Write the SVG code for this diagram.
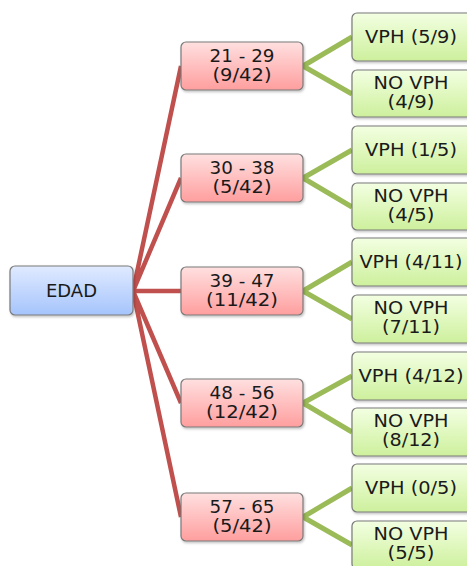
<svg xmlns="http://www.w3.org/2000/svg" width="467" height="566" viewBox="0 0 467 566">
<style>
text{font-family:"DejaVu Sans","Verdana",sans-serif;font-size:18px;fill:#1a1a1a;text-anchor:middle}
.box{stroke:#7a7a7a;stroke-width:1.2}
.root{fill:url(#gBlue)}
.age{fill:url(#gRed)}
.leaf{fill:url(#gGreen)}
.red{stroke:#c0504d;stroke-width:4.5;fill:none}
.grn{stroke:#9bbb59;stroke-width:5;fill:none}
</style>
<defs>
<linearGradient id="gBlue" x1="0" y1="0" x2="0" y2="1"><stop offset="0" stop-color="#e0eaff"/><stop offset="1" stop-color="#a5c4fc"/></linearGradient>
<linearGradient id="gRed" x1="0" y1="0" x2="0" y2="1"><stop offset="0" stop-color="#ffe0e0"/><stop offset="1" stop-color="#ff9e9e"/></linearGradient>
<linearGradient id="gGreen" x1="0" y1="0" x2="0" y2="1"><stop offset="0" stop-color="#f3ffe2"/><stop offset="1" stop-color="#cdf09c"/></linearGradient>
<filter id="sh" x="-10%" y="-10%" width="130%" height="140%"><feDropShadow dx="1" dy="1.5" stdDeviation="1.2" flood-color="#000" flood-opacity="0.25"/></filter>
</defs>
<g id="connectors">
<path class="red" d="M133 291 L181 66 M133 291 L181 178 M133 291 L181 291 M133 291 L181 403 M133 291 L181 517"/>
<path class="grn" d="M303 66 L352 37 M303 66 L352 94 M303 178 L352 150 M303 178 L352 207 M303 291 L352 262 M303 291 L352 319 M303 403 L352 376 M303 403 L352 432 M303 517 L352 488 M303 517 L352 545"/>
</g>
<g id="edad"><rect class="box root" x="10" y="266" width="123" height="49" rx="5" filter="url(#sh)"/><text x="71.5" y="297" textLength="51" lengthAdjust="spacingAndGlyphs">EDAD</text></g>
<g id="age21"><rect class="box age" x="181" y="42" width="122" height="48" rx="5" filter="url(#sh)"/><text x="242" y="62" textLength="65" lengthAdjust="spacingAndGlyphs">21 - 29</text><text x="242" y="81" textLength="59" lengthAdjust="spacingAndGlyphs">(9/42)</text></g>
<g id="age30"><rect class="box age" x="181" y="154" width="122" height="48" rx="5" filter="url(#sh)"/><text x="242" y="174" textLength="65" lengthAdjust="spacingAndGlyphs">30 - 38</text><text x="242" y="193" textLength="59" lengthAdjust="spacingAndGlyphs">(5/42)</text></g>
<g id="age39"><rect class="box age" x="181" y="267" width="122" height="48" rx="5" filter="url(#sh)"/><text x="242" y="287" textLength="65" lengthAdjust="spacingAndGlyphs">39 - 47</text><text x="242" y="306" textLength="72" lengthAdjust="spacingAndGlyphs">(11/42)</text></g>
<g id="age48"><rect class="box age" x="181" y="379" width="122" height="48" rx="5" filter="url(#sh)"/><text x="242" y="399" textLength="65" lengthAdjust="spacingAndGlyphs">48 - 56</text><text x="242" y="418" textLength="72" lengthAdjust="spacingAndGlyphs">(12/42)</text></g>
<g id="age57"><rect class="box age" x="181" y="493" width="122" height="48" rx="5" filter="url(#sh)"/><text x="242" y="513" textLength="65" lengthAdjust="spacingAndGlyphs">57 - 65</text><text x="242" y="532" textLength="59" lengthAdjust="spacingAndGlyphs">(5/42)</text></g>
<g id="vph21"><rect class="box leaf" x="352" y="13" width="120" height="48" rx="5" filter="url(#sh)"/><text x="411" y="43" textLength="92" lengthAdjust="spacingAndGlyphs">VPH (5/9)</text></g>
<g id="novph21"><rect class="box leaf" x="352" y="70" width="120" height="47" rx="5" filter="url(#sh)"/><text x="411" y="89" textLength="75" lengthAdjust="spacingAndGlyphs">NO VPH</text><text x="411" y="108" textLength="47" lengthAdjust="spacingAndGlyphs">(4/9)</text></g>
<g id="vph30"><rect class="box leaf" x="352" y="126" width="120" height="48" rx="5" filter="url(#sh)"/><text x="411" y="156" textLength="92" lengthAdjust="spacingAndGlyphs">VPH (1/5)</text></g>
<g id="novph30"><rect class="box leaf" x="352" y="183" width="120" height="47" rx="5" filter="url(#sh)"/><text x="411" y="202" textLength="75" lengthAdjust="spacingAndGlyphs">NO VPH</text><text x="411" y="221" textLength="47" lengthAdjust="spacingAndGlyphs">(4/5)</text></g>
<g id="vph39"><rect class="box leaf" x="352" y="238" width="120" height="48" rx="5" filter="url(#sh)"/><text x="411" y="268" textLength="103" lengthAdjust="spacingAndGlyphs">VPH (4/11)</text></g>
<g id="novph39"><rect class="box leaf" x="352" y="295" width="120" height="48" rx="5" filter="url(#sh)"/><text x="411" y="314" textLength="75" lengthAdjust="spacingAndGlyphs">NO VPH</text><text x="411" y="333" textLength="58" lengthAdjust="spacingAndGlyphs">(7/11)</text></g>
<g id="vph48"><rect class="box leaf" x="352" y="352" width="120" height="48" rx="5" filter="url(#sh)"/><text x="411" y="382" textLength="105" lengthAdjust="spacingAndGlyphs">VPH (4/12)</text></g>
<g id="novph48"><rect class="box leaf" x="352" y="408" width="120" height="48" rx="5" filter="url(#sh)"/><text x="411" y="427" textLength="75" lengthAdjust="spacingAndGlyphs">NO VPH</text><text x="411" y="446" textLength="58" lengthAdjust="spacingAndGlyphs">(8/12)</text></g>
<g id="vph57"><rect class="box leaf" x="352" y="464" width="120" height="48" rx="5" filter="url(#sh)"/><text x="411" y="494" textLength="92" lengthAdjust="spacingAndGlyphs">VPH (0/5)</text></g>
<g id="novph57"><rect class="box leaf" x="352" y="521" width="120" height="48" rx="5" filter="url(#sh)"/><text x="411" y="540" textLength="75" lengthAdjust="spacingAndGlyphs">NO VPH</text><text x="411" y="559" textLength="47" lengthAdjust="spacingAndGlyphs">(5/5)</text></g>
</svg>
